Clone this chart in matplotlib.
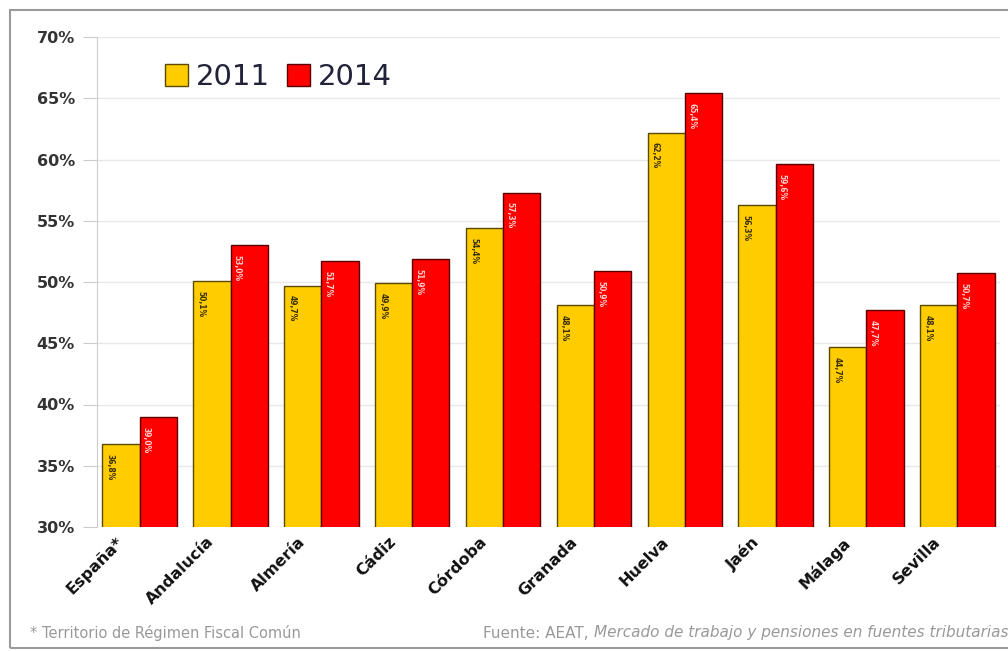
import matplotlib
matplotlib.use("Agg")
import matplotlib.pyplot as plt
from matplotlib.patches import Rectangle
from matplotlib.transforms import ScaledTranslation
import numpy as np

categories = ["España*", "Andalucía", "Almería", "Cádiz", "Córdoba",
              "Granada", "Huelva", "Jaén", "Málaga", "Sevilla"]
values_2011 = [36.8, 50.1, 49.7, 49.9, 54.4, 48.1, 62.2, 56.3, 44.7, 48.1]
values_2014 = [39.0, 53.0, 51.7, 51.9, 57.3, 50.9, 65.4, 59.6, 47.7, 50.7]
series_labels = ["2011", "2014"]
yticks = [30, 35, 40, 45, 50, 55, 60, 65, 70]

fig = plt.figure(figsize=(10.08, 6.51), dpi=100)
ax = fig.add_axes([97/1008, (651-527)/651, (1000-97)/1008, (527-37)/651])

x = np.arange(len(categories))
w = 0.41
ax.bar(x - w/2, values_2011, w, color="#FFCC00", edgecolor="#5a4a00",
       linewidth=1.0, label=series_labels[0], zorder=3)
ax.bar(x + w/2, values_2014, w, color="#FF0000", edgecolor="#5a0000",
       linewidth=1.0, label=series_labels[1], zorder=3)

for xi, v in zip(x, values_2011):
    ax.text(xi - w/2 - 0.12, v - 0.8, f"{v:.1f}%".replace(".", ","), rotation=-90,
            ha="center", va="top", fontsize=5.5, fontweight="bold",
            color="#3a3000", zorder=4)
for xi, v in zip(x, values_2014):
    ax.text(xi + w/2 - 0.13, v - 0.8, f"{v:.1f}%".replace(".", ","), rotation=-90,
            ha="center", va="top", fontsize=5.5, fontweight="bold",
            color="#ffd0d0", zorder=4)

ax.set_ylim(30, 70)
ax.set_xlim(-0.47, len(categories) - 0.53)
ax.set_yticks(yticks)
ax.set_yticklabels([f"{t}%" for t in yticks], fontsize=11.5, fontweight="bold",
                   color="#333333")
ax.tick_params(axis="y", length=10, color="#cccccc", pad=6)
ax.yaxis.grid(True, color="#e8e8e8", linewidth=1.0, zorder=0)
ax.set_axisbelow(True)

ax.set_xticks(x)
ax.set_xticklabels(categories, rotation=45, ha="right", va="top",
                   rotation_mode="anchor", fontsize=11.5, fontweight="bold",
                   color="#111111")
ax.tick_params(axis="x", length=0, pad=8)
shift = ScaledTranslation(-24/100, 4/100, fig.dpi_scale_trans)
for lbl in ax.get_xticklabels():
    lbl.set_transform(lbl.get_transform() + shift)

for s in ["top", "right", "bottom"]:
    ax.spines[s].set_visible(False)
ax.spines["left"].set_color("#cccccc")

ax.legend(loc="upper left", bbox_to_anchor=(0.046, 1.0), ncol=2,
          frameon=False, fontsize=21, handlelength=0.8, handleheight=0.8,
          handletextpad=0.25, columnspacing=0.6, labelcolor="#22223a")

fig.text(30/1008, 1 - 633/651, "* Territorio de Régimen Fiscal Común",
         fontsize=10.5, color="#999999", va="center", ha="left")

fig.canvas.draw()
t_it = fig.text(1008/1008, 1 - 633/651,
                "Mercado de trabajo y pensiones en fuentes tributarias",
                fontsize=11, color="#999999", va="center", ha="right",
                style="italic")
fig.canvas.draw()
bb = t_it.get_window_extent()
fig.text(bb.x0 / fig.bbox.width, 1 - 633/651, "Fuente: AEAT, ",
         fontsize=11, color="#999999", va="center", ha="right")

fig.patches.append(Rectangle((10/1008, 3/651), 1.2, 1 - 13/651,
                             transform=fig.transFigure, fill=False,
                             edgecolor="#9a9a9a", linewidth=1.5))

fig.savefig("out.png", dpi=100)
